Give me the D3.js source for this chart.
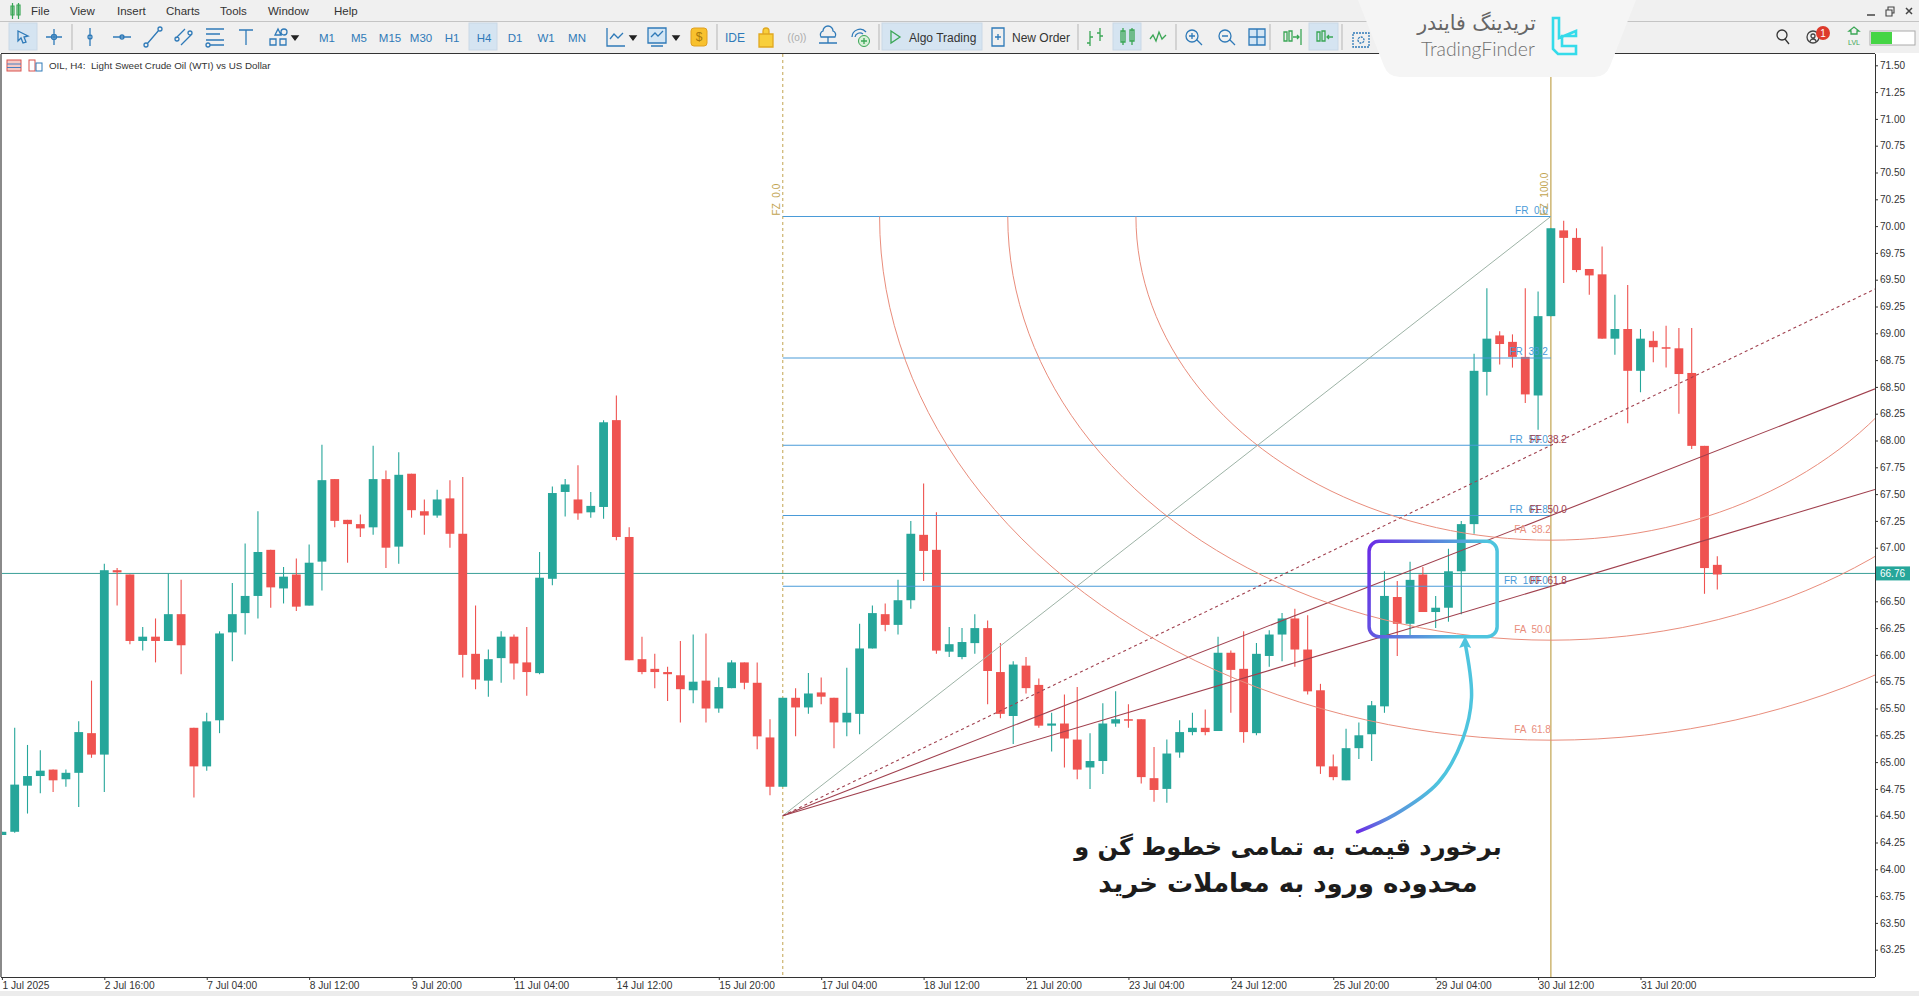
<!DOCTYPE html>
<html>
<head>
<meta charset="utf-8">
<title>OIL, H4</title>
<script src="https://cdn.jsdelivr.net/npm/d3@7/dist/d3.min.js"></script>
<style>
    html, body { margin: 0; padding: 0; background: #fff; overflow: hidden; }
    svg { display: block; }
    text { font-family: "Liberation Sans", Arial, sans-serif; white-space: pre; }
    .tick line { stroke: #333; }
    .tick text { fill: #333; }
</style>
</head>
<body>
<div id="myfigure"></div>
<script>
// candles, first one is the half hidden bar on the left edge (index -1)
var opens = [64.32,
    64.35, 64.78, 64.87, 64.93, 64.84, 64.90, 65.27, 65.07, 66.79, 66.75,
    66.13, 66.17, 66.13, 66.38, 65.32, 64.96, 65.39, 66.21, 66.39, 66.55,
    66.98, 66.62, 66.75, 66.46, 66.87, 67.64, 67.26, 67.22, 67.19, 67.64,
    67.01, 67.69, 67.34, 67.30, 67.46, 67.13, 66.01, 65.76, 65.97, 66.17,
    65.93, 65.83, 66.71, 67.52, 67.45, 67.33, 67.38, 68.19, 67.10, 65.96,
    65.87, 65.84, 65.81, 65.67, 65.76, 65.50, 65.69, 65.93, 65.74, 65.23,
    64.77, 65.60, 65.51, 65.65, 65.60, 65.37, 65.45, 66.06, 66.38, 66.28,
    66.51, 67.12, 66.98, 66.03, 65.98, 66.11, 66.25, 65.84, 65.43, 65.90,
    65.72, 65.34, 65.36, 65.21, 64.95, 65.01, 65.36, 65.40, 65.40, 64.85,
    64.75, 65.09, 65.28, 65.32, 65.29, 66.02, 65.87, 65.27, 65.99, 66.19,
    66.34, 66.05, 65.67, 64.96, 64.83, 65.13, 65.26, 65.52, 66.54, 66.29,
    66.75, 66.40, 66.44, 66.78, 67.22, 68.64, 68.98, 68.92, 68.78, 68.42,
    69.16, 69.96, 69.89, 69.60, 69.55, 68.95, 69.04, 68.65, 68.93, 68.87,
    68.86, 68.63, 67.95, 66.84];
var highs = [64.35,
    65.32, 65.16, 65.11, 64.93, 64.93, 65.38, 65.76, 66.85, 66.81, 66.75,
    66.26, 66.34, 66.76, 66.70, 65.32, 65.46, 66.22, 66.67, 67.04, 67.34,
    66.98, 66.82, 66.90, 67.03, 67.96, 67.64, 67.26, 67.31, 67.95, 67.72,
    67.89, 67.69, 67.45, 67.54, 67.63, 67.66, 66.46, 66.05, 66.22, 66.19,
    66.26, 66.96, 67.57, 67.64, 67.77, 67.52, 68.19, 68.42, 67.19, 66.17,
    66.01, 65.89, 66.13, 66.19, 66.20, 65.79, 65.95, 65.93, 65.93, 65.40,
    65.60, 65.69, 65.83, 65.79, 65.60, 65.88, 66.29, 66.46, 66.48, 66.70,
    67.25, 67.60, 67.33, 66.26, 66.25, 66.38, 66.32, 66.11, 65.94, 65.98,
    65.78, 65.46, 65.63, 65.70, 65.27, 65.55, 65.66, 65.54, 65.40, 65.14,
    65.21, 65.39, 65.46, 65.49, 66.17, 66.04, 66.22, 66.11, 66.23, 66.39,
    66.43, 66.37, 65.73, 65.07, 65.31, 65.37, 65.57, 66.78, 66.69, 66.87,
    66.82, 66.55, 66.99, 67.25, 68.81, 69.42, 69.02, 68.99, 69.42, 69.39,
    69.98, 70.05, 69.98, 69.60, 69.81, 69.36, 69.45, 69.04, 69.02, 69.07,
    69.05, 69.05, 67.95, 66.92];
var lows = [64.32,
    64.34, 64.52, 64.71, 64.72, 64.77, 64.58, 65.04, 64.72, 66.46, 66.10,
    66.04, 65.93, 66.13, 65.82, 64.67, 64.92, 65.27, 65.94, 66.19, 66.34,
    66.44, 66.48, 66.41, 66.46, 66.60, 67.19, 66.86, 67.10, 67.12, 66.81,
    66.85, 67.28, 67.12, 67.28, 67.00, 65.79, 65.68, 65.61, 65.74, 65.77,
    65.62, 65.82, 66.65, 67.29, 67.26, 67.28, 67.27, 67.07, 65.95, 65.82,
    65.69, 65.57, 65.37, 65.55, 65.37, 65.46, 65.69, 65.68, 65.12, 64.69,
    64.77, 65.24, 65.45, 65.54, 65.13, 65.24, 65.26, 66.06, 66.22, 66.19,
    66.43, 66.69, 66.01, 65.98, 65.96, 66.01, 65.54, 65.41, 65.17, 65.64,
    65.32, 65.10, 64.95, 64.84, 64.75, 64.89, 65.33, 65.32, 64.80, 64.63,
    64.62, 65.04, 65.25, 65.25, 65.29, 65.46, 65.18, 65.25, 65.89, 65.94,
    65.89, 65.63, 64.89, 64.83, 64.83, 65.03, 65.01, 65.46, 65.99, 66.16,
    66.40, 66.25, 66.31, 66.38, 67.13, 68.42, 68.71, 68.68, 68.35, 68.10,
    69.16, 69.47, 69.57, 69.36, 68.95, 68.80, 68.16, 68.45, 68.73, 68.68,
    68.25, 67.92, 66.57, 66.61];
var closes = [64.35,
    64.79, 64.87, 64.92, 64.83, 64.90, 65.28, 65.07, 66.79, 66.77, 66.13,
    66.17, 66.13, 66.38, 66.09, 64.96, 65.38, 66.20, 66.38, 66.55, 66.96,
    66.63, 66.73, 66.45, 66.86, 67.63, 67.25, 67.22, 67.18, 67.64, 67.00,
    67.68, 67.35, 67.30, 67.45, 67.13, 66.00, 65.77, 65.96, 66.17, 65.92,
    65.84, 66.72, 67.51, 67.59, 67.32, 67.39, 68.17, 67.10, 65.95, 65.84,
    65.84, 65.82, 65.68, 65.75, 65.50, 65.70, 65.93, 65.74, 65.24, 64.77,
    65.60, 65.51, 65.64, 65.61, 65.37, 65.46, 66.06, 66.39, 66.28, 66.51,
    67.13, 66.97, 66.04, 66.10, 66.12, 66.25, 65.85, 65.45, 65.91, 65.69,
    65.34, 65.36, 65.22, 64.93, 65.01, 65.36, 65.40, 65.39, 64.86, 64.74,
    65.08, 65.28, 65.32, 65.28, 66.02, 65.86, 65.28, 66.01, 66.19, 66.34,
    66.05, 65.66, 64.96, 64.86, 65.13, 65.25, 65.53, 66.55, 66.29, 66.70,
    66.40, 66.44, 66.78, 67.22, 68.65, 68.95, 68.90, 68.78, 68.43, 69.16,
    69.98, 69.89, 69.59, 69.54, 68.95, 69.04, 68.65, 68.95, 68.87, 68.86,
    68.62, 67.95, 66.81, 66.75];

var priceTicks = [71.5, 71.25, 71, 70.75, 70.5, 70.25, 70, 69.75, 69.5, 69.25, 69, 68.75,
    68.5, 68.25, 68, 67.75, 67.5, 67.25, 67, 66.75, 66.5, 66.25, 66, 65.75, 65.5, 65.25,
    65, 64.75, 64.5, 64.25, 64, 63.75, 63.5, 63.25];
var dateTicks = [-1, 7, 15, 23, 31, 39, 47, 55, 63, 71, 79, 87, 95, 103, 111, 119, 127];
var dateLabels = ["1 Jul 2025", "2 Jul 16:00", "7 Jul 04:00", "8 Jul 12:00", "9 Jul 20:00",
    "11 Jul 04:00", "14 Jul 12:00", "15 Jul 20:00", "17 Jul 04:00", "18 Jul 12:00",
    "21 Jul 20:00", "23 Jul 04:00", "24 Jul 12:00", "25 Jul 20:00", "29 Jul 04:00",
    "30 Jul 12:00", "31 Jul 20:00"];
var lastPrice = 66.76;

// fibonacci tools, anchored on these two points
var anchorBars = [60, 120];
var anchorPrices = [64.50, 70.09];
var retraceValues = [70.09, 68.77, 67.955, 67.30, 66.64];
var retraceLabels = ["FR  0.0", "FR  38.2", "FR  50.0", "FR  61.8", "FR  100.0"];
var fanValues = [67.955, 67.30, 66.64];
var fanLabels = ["FF  38.2", "FF  50.0", "FF  61.8"];
var fanDash = ["3,3", null, null];
var arcLevels = [0.382, 0.5, 0.618];
var arcLabels = ["FA  38.2", "FA  50.0", "FA  61.8"];
var timeLabels = ["FZ  0.0", "FZ  100.0"];

// blue/cyan call-out
var boxBars = [105.8, 115.8];
var boxPrices = [67.06, 66.17];
var arrowBars = [104.9, 107.8, 111.2, 113.1, 113.8, 113.3];
var arrowPrices = [64.35, 64.51, 64.81, 65.21, 65.60, 66.11];
var noteLines = ["برخورد قیمت به تمامی خطوط گن و", "محدوده ورود به معاملات خرید"];

var menuItems = ["File", "View", "Insert", "Charts", "Tools", "Window", "Help"];
var menuX = [31, 70, 117, 166, 220, 268, 334];
var periods = ["M1", "M5", "M15", "M30", "H1", "H4", "D1", "W1", "MN"];
var periodX = [327, 359, 390, 421, 452, 484, 515, 546, 577];

var width = 1919;
var height = 996;
var margin = { left: 2, right: 44, top: 54, bottom: 19 };
var chartRight = width - margin.right;
var chartBottom = height - margin.bottom;

var bull = "#26a69a", bear = "#ef5350";
var gold = "#c2a450", blue = "#4a9bd8", darkRed = "#a0404e", salmon = "#e98d7c";
var iconBlue = "#2f7ab8";

var xScale = d3.scaleLinear().domain([-1, 133]).range([1.9, 1717.3]);
var yScale = d3.scaleLinear().domain([63.25, 71.5]).range([949.7, 65.3]);

var svg = d3.select("#myfigure").
    append("svg").
    attr("width", width).
    attr("height", height);

var defs = svg.append("defs");
defs.append("clipPath").attr("id", "plot").append("rect").
    attr("x", margin.left).attr("y", margin.top).
    attr("width", chartRight - margin.left).attr("height", chartBottom - margin.top);

function gradient(id, x1, y1, x2, y2, stops) {
    var g = defs.append("linearGradient").attr("id", id).
        attr("gradientUnits", "userSpaceOnUse").
        attr("x1", x1).attr("y1", y1).attr("x2", x2).attr("y2", y2);
    stops.forEach(function (s) {
        g.append("stop").attr("offset", s[0]).attr("stop-color", s[1]);
    });
}

var plot = svg.append("g").attr("clip-path", "url(#plot)");

// bid line and time zones go under the candles
plot.append("line").
    attr("x1", margin.left).attr("x2", chartRight).
    attr("y1", yScale(lastPrice)).attr("y2", yScale(lastPrice)).
    attr("stroke", "#3a9f98").attr("stroke-width", 1);

var xA = xScale(anchorBars[0]), xB = xScale(anchorBars[1]);
plot.append("line").attr("x1", xA).attr("x2", xA).attr("y1", margin.top).attr("y2", chartBottom).
    attr("stroke", gold).attr("stroke-dasharray", "3,3");
plot.append("line").attr("x1", xB).attr("x2", xB).attr("y1", margin.top).attr("y2", chartBottom).
    attr("stroke", gold).attr("stroke-width", 1.2);

var candles = plot.selectAll("g.candle").
    data(opens).
    enter().
    append("g").
    attr("class", "candle").
    attr("transform", function (d, i) { return "translate(" + xScale(i - 1) + ",0)"; }).
    attr("fill", function (d, i) { return closes[i] >= opens[i] ? bull : bear; }).
    attr("stroke", function (d, i) { return closes[i] >= opens[i] ? bull : bear; });

candles.append("line").
    attr("y1", function (d, i) { return yScale(highs[i]); }).
    attr("y2", function (d, i) { return yScale(lows[i]); }).
    attr("stroke-width", 1.1);

candles.append("rect").
    attr("x", -4.4).
    attr("width", 8.8).
    attr("stroke", "none").
    attr("y", function (d, i) { return yScale(Math.max(opens[i], closes[i])); }).
    attr("height", function (d, i) {
        return Math.max(1.5, Math.abs(yScale(opens[i]) - yScale(closes[i])));
    });

// retracement lines
plot.selectAll("line.fr").
    data(retraceValues).
    enter().
    append("line").
    attr("class", "fr").
    attr("x1", xA).attr("x2", xB).
    attr("y1", function (d) { return yScale(d); }).
    attr("y2", function (d) { return yScale(d); }).
    attr("stroke", blue).attr("stroke-width", 1.1);

// trend line between the anchors
plot.append("line").
    attr("x1", xA).attr("x2", xB).
    attr("y1", yScale(anchorPrices[0])).attr("y2", yScale(anchorPrices[1])).
    attr("stroke", "#9db3a6").attr("stroke-width", 1);

// fan, runs on to the right edge of the chart
plot.selectAll("line.ff").
    data(fanValues).
    enter().
    append("line").
    attr("class", "ff").
    attr("x1", xA).
    attr("y1", yScale(anchorPrices[0])).
    attr("x2", chartRight).
    attr("y2", function (d) {
        var slope = (yScale(d) - yScale(anchorPrices[0])) / (xB - xA);
        return yScale(anchorPrices[0]) + slope * (chartRight - xA);
    }).
    attr("stroke", darkRed).
    attr("stroke-width", 1.1).
    attr("stroke-dasharray", function (d, i) { return fanDash[i]; });

// arcs are ellipses around the second anchor, radius = level * sqrt(2) * range
var barRange = anchorBars[1] - anchorBars[0];
var priceRange = anchorPrices[1] - anchorPrices[0];
var arcLine = d3.line().curve(d3.curveLinear);

plot.selectAll("path.fa").
    data(arcLevels).
    enter().
    append("path").
    attr("class", "fa").
    attr("fill", "none").
    attr("stroke", salmon).
    attr("stroke-width", 1).
    attr("d", function (lvl) {
        var pts = d3.range(0, 181, 2).map(function (deg) {
            var a = deg * Math.PI / 180;
            return [
                xScale(anchorBars[1] - Math.cos(a) * lvl * Math.SQRT2 * barRange),
                yScale(anchorPrices[1] - Math.sin(a) * lvl * Math.SQRT2 * priceRange)
            ];
        });
        return arcLine(pts);
    });

// tool labels
var labels = svg.append("g").attr("font-size", 10);

labels.selectAll("text.fr").
    data(retraceValues).
    enter().
    append("text").
    attr("x", xB - 3).
    attr("y", function (d) { return yScale(d) - 2.5; }).
    attr("text-anchor", "end").
    attr("fill", blue).
    text(function (d, i) { return retraceLabels[i]; });

labels.selectAll("text.ff").
    data(fanValues).
    enter().
    append("text").
    attr("x", xB + 16).
    attr("y", function (d) { return yScale(d) - 2.5; }).
    attr("text-anchor", "end").
    attr("fill", darkRed).
    text(function (d, i) { return fanLabels[i]; });

labels.selectAll("text.fa").
    data(arcLevels).
    enter().
    append("text").
    attr("x", xB).
    attr("y", function (lvl) { return yScale(anchorPrices[1] - lvl * Math.SQRT2 * priceRange) - 7; }).
    attr("text-anchor", "end").
    attr("fill", salmon).
    text(function (d, i) { return arcLabels[i]; });

labels.selectAll("text.fz").
    data(anchorBars).
    enter().
    append("text").
    attr("transform", function (d) {
        return "translate(" + (xScale(d) - 3) + "," + (yScale(anchorPrices[1]) - 1) + ") rotate(-90)";
    }).
    attr("fill", gold).
    text(function (d, i) { return timeLabels[i]; });

// call-out box and arrow
var boxX = xScale(boxBars[0]), boxY = yScale(boxPrices[0]);
var boxW = xScale(boxBars[1]) - boxX, boxH = yScale(boxPrices[1]) - boxY;
gradient("boxGrad", boxX, boxY, boxX + boxW, boxY + boxH * 0.4, [[0, "#6a2be6"], [0.45, "#5a7fdc"], [0.85, "#4ec4de"]]);
svg.append("rect").
    attr("x", boxX).attr("y", boxY).attr("width", boxW).attr("height", boxH).
    attr("rx", 10).attr("fill", "none").
    attr("stroke", "url(#boxGrad)").attr("stroke-width", 3.5);

var arrowPts = arrowBars.map(function (b, i) { return [xScale(b), yScale(arrowPrices[i])]; });
gradient("arrowGrad", arrowPts[0][0], arrowPts[0][1], arrowPts[2][0], arrowPts[2][1],
    [[0, "#6a2be6"], [0.35, "#5a8fdc"], [1, "#4ec4de"]]);
svg.append("path").
    attr("d", d3.line().curve(d3.curveCatmullRom)(arrowPts)).
    attr("fill", "none").
    attr("stroke", "url(#arrowGrad)").attr("stroke-width", 3.5).attr("stroke-linecap", "round");
var tip = arrowPts[arrowPts.length - 1];
svg.append("path").
    attr("transform", "translate(" + tip[0] + "," + tip[1] + ")").
    attr("d", "M0,-7L6,5L0,3L-6,5Z").
    attr("fill", "#4ec4de");

var note = svg.append("g").
    attr("font-weight", "bold").attr("fill", "#1c1c1c").attr("text-anchor", "middle");
note.selectAll("text").
    data(noteLines).
    enter().
    append("text").
    attr("x", 1288).
    attr("y", function (d, i) { return 855 + i * 37; }).
    attr("font-size", function (d, i) { return i == 0 ? 24 : 26; }).
    attr("direction", "rtl").
    style("font-family", '"DejaVu Sans", sans-serif').
    text(function (d) { return d; });

// axes and frame
var xAxis = d3.axisBottom(xScale).
    tickValues(dateTicks).
    tickSize(3).
    tickPadding(2).
    tickFormat(function (d, i) { return dateLabels[i]; });
var xAxisG = svg.append("g").attr("transform", "translate(0," + chartBottom + ")").call(xAxis);
xAxisG.select(".domain").remove();
xAxisG.selectAll("text").attr("text-anchor", "start").attr("font-size", 10.2).
    style("font-family", '"Liberation Sans", sans-serif');

var yAxis = d3.axisRight(yScale).
    tickValues(priceTicks).
    tickSize(3).
    tickPadding(2).
    tickFormat(d3.format(".2f"));
var yAxisG = svg.append("g").attr("transform", "translate(" + chartRight + ",0)").call(yAxis);
yAxisG.select(".domain").remove();
yAxisG.selectAll("text").attr("font-size", 10).
    style("font-family", '"Liberation Sans", sans-serif');

var frame = svg.append("g").attr("stroke", "#333");
frame.append("line").attr("x1", 1).attr("x2", chartRight).attr("y1", margin.top - 0.5).attr("y2", margin.top - 0.5);
frame.append("line").attr("x1", chartRight + 0.5).attr("x2", chartRight + 0.5).attr("y1", margin.top).attr("y2", chartBottom);
frame.append("line").attr("x1", 1).attr("x2", chartRight).attr("y1", chartBottom + 0.5).attr("y2", chartBottom + 0.5);
frame.append("line").attr("x1", 1).attr("x2", 1).attr("y1", margin.top).attr("y2", chartBottom).attr("stroke", "#8a8a8a").attr("stroke-width", 2);

// price tag
var tag = svg.append("g").attr("transform", "translate(" + chartRight + "," + yScale(lastPrice) + ")");
tag.append("rect").attr("x", 1).attr("y", -7).attr("width", 34).attr("height", 14).attr("fill", bull);
tag.append("text").attr("x", 5).attr("y", 3.5).attr("font-size", 10).attr("fill", "#fff").text(lastPrice.toFixed(2));

svg.append("text").attr("x", 49).attr("y", 69).attr("font-size", 9.8).attr("fill", "#333").
    text("OIL, H4:  Light Sweet Crude Oil (WTI) vs US Dollar");

// little chart icons next to the title
svg.append("rect").attr("x", 7).attr("y", 60).attr("width", 14).attr("height", 11).attr("fill", "#f6c9c4").attr("stroke", "#d9534f");
svg.append("path").attr("d", "M7,64H21M7,67.5H21").attr("stroke", "#4a80c0");
svg.append("rect").attr("x", 29).attr("y", 60).attr("width", 6).attr("height", 11).attr("fill", "none").attr("stroke", "#d9534f");
svg.append("rect").attr("x", 36).attr("y", 63).attr("width", 6).attr("height", 8).attr("fill", "none").attr("stroke", iconBlue);

// ---- window chrome
var chrome = svg.append("g");
chrome.append("rect").attr("width", width).attr("height", margin.top - 1).attr("fill", "#f0f0f0");
chrome.append("line").attr("x1", 0).attr("x2", width).attr("y1", 21.5).attr("y2", 21.5).attr("stroke", "#c4c4c4");
svg.append("rect").attr("y", 991).attr("width", width).attr("height", 5).attr("fill", "#ececec");

function highlight(x, w) {
    chrome.append("rect").attr("x", x).attr("y", 23).attr("width", w).attr("height", 27).
        attr("fill", "#d5e4f1").attr("stroke", "#c9d8e6");
}
function sep(x) {
    chrome.append("line").attr("x1", x).attr("x2", x).attr("y1", 24).attr("y2", 50).attr("stroke", "#b5b5b5");
}
function icon(x, y, d, color, width_) {
    return chrome.append("path").attr("transform", "translate(" + x + "," + y + ")").attr("d", d).
        attr("fill", "none").attr("stroke", color || iconBlue).attr("stroke-width", width_ || 1.3);
}

[[9, 28], [469, 28], [882, 100], [1113, 28], [1309, 29]].forEach(function (h) { highlight(h[0], h[1]); });
[72, 717, 879, 1078, 1176, 1270, 1342].forEach(sep);

chrome.selectAll("text.menu").
    data(menuItems).
    enter().
    append("text").
    attr("x", function (d, i) { return menuX[i]; }).
    attr("y", 14.5).
    attr("font-size", 11.5).
    attr("fill", "#333").
    text(function (d) { return d; });

chrome.selectAll("text.period").
    data(periods).
    enter().
    append("text").
    attr("x", function (d, i) { return periodX[i]; }).
    attr("y", 42).
    attr("text-anchor", "middle").
    attr("font-size", 11.5).
    attr("fill", iconBlue).
    text(function (d) { return d; });

// app icon
icon(14, 11, "M-3,-5h3v9h-3zM3,-6h3v10h-3zM-1.5,-8v16M4.5,-8v16", "#3aa655", 1.2);
// drawing tools
icon(23, 37, "M-5,-6L5,-1L1,0L3,5L0,6L-2,1L-5,4Z");
icon(54, 37, "M-8,0H8M0,-8V8M-2.5,0a2.5,2.5 0 1,0 5,0a2.5,2.5 0 1,0 -5,0");
icon(90, 37, "M0,-9V9M-2,0a2,2 0 1,0 4,0a2,2 0 1,0 -4,0");
icon(122, 37, "M-9,0H9M-2,0a2,2 0 1,0 4,0a2,2 0 1,0 -4,0");
icon(153, 37, "M-6,7L6,-7M-9,8a2,2 0 1,0 4,0a2,2 0 1,0 -4,0M5,-8a2,2 0 1,0 4,0a2,2 0 1,0 -4,0");
icon(184, 37, "M-8,1L1,-8M-3,8L8,-3M-9,2a2,2 0 1,0 4,0a2,2 0 1,0 -4,0M4,-4a2,2 0 1,0 4,0a2,2 0 1,0 -4,0");
icon(215, 37, "M-9,-8H9M-9,-3H5M-9,3H9M-5,8H9M-9,8a2,2 0 1,0 4,0a2,2 0 1,0 -4,0");
icon(246, 37, "M-7,-7H7M0,-7V8");
icon(278, 37, "M-3,-2L0,-8L3,-2ZM3,-5a3,3 0 1,0 6,0a3,3 0 1,0 -6,0M-8,2h6v6h-6zM2,2h6v6h-6z");
icon(295, 38, "M-3,-2H3L0,2Z", "#222").attr("fill", "#222");
icon(616, 37, "M-9,-9V9H9M-6,2L-2,-3L2,1L7,-4");
icon(633, 38, "M-3,-2H3L0,2Z", "#222").attr("fill", "#222");
icon(657, 37, "M-9,-9H9V6H-9ZM-6,0L-2,-4L1,-1L6,-6M-6,9H6", iconBlue).attr("fill", "#d4e6f4");
icon(676, 38, "M-3,-2H3L0,2Z", "#222").attr("fill", "#222");
chrome.append("rect").attr("x", 691).attr("y", 28).attr("width", 16).attr("height", 18).attr("rx", 3).attr("fill", "#f8c12e").attr("stroke", "#e0a020");
chrome.append("text").attr("x", 699).attr("y", 41).attr("text-anchor", "middle").attr("font-size", 12).attr("fill", "#a8780c").text("$");
chrome.append("text").attr("x", 735).attr("y", 42).attr("text-anchor", "middle").attr("font-size", 12).attr("fill", iconBlue).text("IDE");
icon(766, 38, "M-7,-4H7V9H-7ZM-3,-4V-7a3,3 0 0,1 6,0V-4", "#e0a820").attr("fill", "#f8cf3c");
chrome.append("text").attr("x", 797).attr("y", 41).attr("text-anchor", "middle").attr("font-size", 10).attr("fill", "#aaa").text("((o))");
icon(828, 36, "M-7,1a4,4 0 0,1 2,-6a5,5 0 0,1 10,0a4,4 0 0,1 2,6ZM-9,7H9M0,1V7");
icon(860, 37, "M-8,0a8,8 0 0,1 14,-5M-5,0a5,5 0 0,1 8,-3");
chrome.append("circle").attr("cx", 864).attr("cy", 41).attr("r", 5.5).attr("fill", "#d8f0d8").attr("stroke", "#3aa655");
icon(864, 41, "M-3,0H3M0,-3V3", "#3aa655");

icon(895, 37, "M-4,-6L5,0L-4,6Z", "#3aa655");
chrome.append("text").attr("x", 909).attr("y", 42).attr("font-size", 12).attr("fill", "#333").text("Algo Trading");
icon(998, 37, "M-6,-9H6V9H-6ZM-3,0H3M0,-3V3");
chrome.append("text").attr("x", 1012).attr("y", 42).attr("font-size", 12).attr("fill", "#333").text("New Order");

icon(1095, 37, "M-5,-6V9M-8,6H-5M-5,0H-2M5,-9V4M2,-4H5M5,-1H8", "#3aa655");
icon(1127, 37, "M-6,-6h4v11h-4zM3,-7h4v11h-4zM-4,-9V8M5,-9V8", "#3aa655");
icon(1158, 37, "M-8,2L-5,-2L-2,4L1,-5L4,2L8,-2", "#3aa655");
icon(1193, 36, "M-7,0a6,6 0 1,0 12,0a6,6 0 1,0 -12,0M4,4L9,9M-4,0H2M-1,-3V3");
icon(1226, 36, "M-7,0a6,6 0 1,0 12,0a6,6 0 1,0 -12,0M4,4L9,9M-4,0H2");
icon(1257, 37, "M-8,-8H8V8H-8ZM0,-8V8M-8,0H8").attr("fill", "#d4e6f4");
icon(1291, 37, "M-7,-5h3v9h-3zM-2,-6h3v10h-3zM2,0H8M6,-2L8,0L6,2M10,-8V8", "#3aa655");
icon(1324, 37, "M-7,-5h3v9h-3zM-2,-6h3v10h-3zM9,0H3M5,-2L3,0L5,2", "#3aa655");
icon(1361, 38, "M-8,-5H8V9H-8ZM-3,2a3,3 0 1,0 6,0a3,3 0 1,0 -6,0").attr("stroke-dasharray", "2,1");

// right side of the toolbar
icon(1782, 36, "M-5,-1a5,5 0 1,0 10,0a5,5 0 1,0 -10,0M3,3L7,8", "#333");
icon(1813, 37, "M-6,0a6,6 0 1,0 12,0a6,6 0 1,0 -12,0M-3,5a3,3 0 0,1 6,0M-2,-1a2,2 0 1,0 4,0a2,2 0 1,0 -4,0", "#444");
chrome.append("circle").attr("cx", 1823).attr("cy", 33).attr("r", 7).attr("fill", "#dd3a2c");
chrome.append("text").attr("x", 1823).attr("y", 37).attr("text-anchor", "middle").attr("font-size", 10).attr("fill", "#fff").text("1");
icon(1854, 33, "M-3,1H3V-2H5L0,-6L-5,-2H-3Z", "#3aa655");
chrome.append("text").attr("x", 1854).attr("y", 45).attr("text-anchor", "middle").attr("font-size", 7).attr("fill", "#3aa655").text("LVL");
chrome.append("rect").attr("x", 1870).attr("y", 31).attr("width", 45).attr("height", 14).attr("fill", "#fff").attr("stroke", "#aaa");
chrome.append("rect").attr("x", 1871).attr("y", 32).attr("width", 21).attr("height", 12).attr("fill", "#45d545");
icon(1871, 12, "M-4,3H4", "#444", 1.5);
icon(1890, 11, "M-4,-1H2V5H-4ZM-2,-1V-4H4V2H2", "#444", 1.1);
icon(1909, 11, "M-3,-3L3,3M-3,3L3,-3", "#444", 1.5);

// watermark tab
var tab = svg.append("g");
tab.append("path").
    attr("d", "M1358,0H1636L1610,66Q1606,77 1594,77H1400Q1388,77 1384,66Z").
    attr("fill", "#f5f5f5");
tab.append("text").attr("x", 1536).attr("y", 30).attr("text-anchor", "start").attr("font-size", 20.5).
    attr("direction", "rtl").attr("fill", "#666").
    style("font-family", '"DejaVu Sans", sans-serif').
    text("تریدینگ فایندر");
tab.append("text").attr("x", 1421).attr("y", 56).attr("font-size", 19.4).attr("fill", "#707070").
    style("font-family", "Lato, sans-serif").style("font-weight", 300).
    text("TradingFinder");
tab.append("path").
    attr("d", "M1553,18H1559V38L1576,31V36H1562V46H1576V54H1558L1553,49Z").
    attr("fill", "none").attr("stroke", "#35dbea").attr("stroke-width", 2.6);
</script>
</body>
</html>
